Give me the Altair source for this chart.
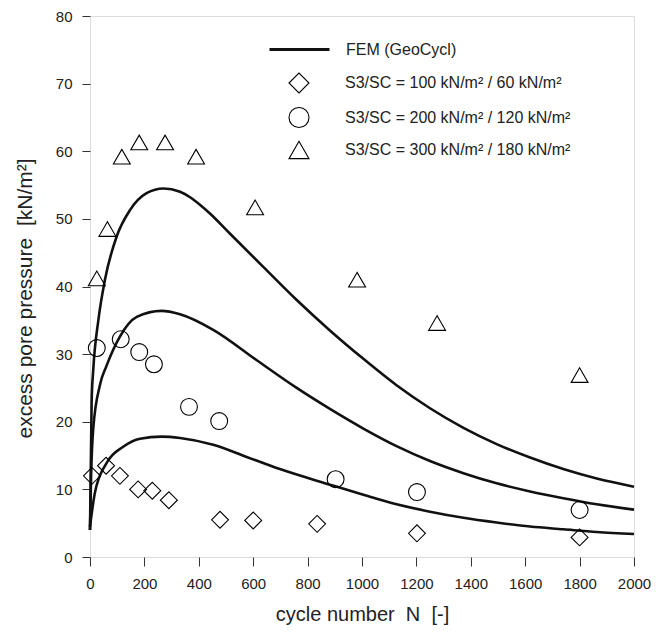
import altair as alt
import pandas as pd

# FEM (GeoCycl) curves
fem_n_300 = [0, 6, 12, 31, 55, 98, 147, 208, 270, 331, 368, 404, 441, 515, 637, 760, 882, 1005, 1127, 1250, 1373, 1495, 1618, 1740, 1863, 2000]
fem_u_300 = [4, 23, 27.7, 35.1, 41.0, 47.4, 51.3, 53.8, 54.5, 54.0, 53.2, 52.1, 50.8, 47.8, 42.9, 38.0, 33.5, 29.3, 25.4, 22.0, 19.1, 16.7, 14.7, 13.0, 11.6, 10.4]

fem_n_200 = [0, 4, 12, 37, 61, 110, 172, 263, 331, 453, 613, 760, 882, 1005, 1127, 1250, 1373, 1495, 1618, 1740, 1863, 2000]
fem_u_200 = [4, 12, 19, 25.5, 28.3, 32.6, 35.5, 36.4, 35.9, 33.6, 29.1, 25.0, 21.9, 19.0, 16.4, 14.2, 12.4, 10.9, 9.7, 8.7, 7.8, 7.0]

fem_n_100 = [0, 18, 61, 122, 184, 263, 331, 453, 576, 698, 882, 1005, 1127, 1250, 1373, 1495, 1618, 1740, 1863, 2000]
fem_u_100 = [4.5, 9.5, 13.9, 16.3, 17.5, 17.8, 17.6, 16.6, 14.8, 13.0, 10.7, 9.2, 7.8, 6.7, 5.8, 5.1, 4.5, 4.1, 3.7, 3.4]

# test data
test_n_100 = [7, 59, 110, 177, 229, 290, 478, 600, 835, 1202, 1800]
test_u_100 = [12.0, 13.5, 12.0, 10.0, 9.8, 8.4, 5.5, 5.4, 4.9, 3.5, 2.9]

test_n_200 = [25, 113, 181, 235, 364, 475, 903, 1202, 1800]
test_u_200 = [30.9, 32.2, 30.3, 28.5, 22.2, 20.1, 11.5, 9.6, 6.95]

test_n_300 = [25, 64, 117, 181, 276, 390, 607, 982, 1276, 1800]
test_u_300 = [41.2, 48.5, 59.2, 61.3, 61.3, 59.2, 51.7, 41.0, 34.6, 26.9]

labels = [
    "S3/SC = 100 kN/m² / 60 kN/m²",
    "S3/SC = 200 kN/m² / 120 kN/m²",
    "S3/SC = 300 kN/m² / 180 kN/m²",
]
fem_label = "FEM (GeoCycl)"

rows = []
for cid, (ns, us) in enumerate([(fem_n_100, fem_u_100), (fem_n_200, fem_u_200), (fem_n_300, fem_u_300)]):
    for n, u in zip(ns, us):
        rows.append({"n": n, "u": u, "curve": cid, "model": fem_label})
lines_df = pd.DataFrame(rows)

prow = []
for lab, (ns, us) in zip(labels, [(test_n_100, test_u_100), (test_n_200, test_u_200), (test_n_300, test_u_300)]):
    for n, u in zip(ns, us):
        prow.append({"n": n, "u": u, "test": lab})
pts_df = pd.DataFrame(prow)

FONT = "Liberation Sans"
TXT = "#222222"

x_enc = alt.X(
    "n:Q",
    scale=alt.Scale(domain=[0, 2000], nice=False, zero=False),
    axis=alt.Axis(
        values=list(range(0, 2001, 200)), format="d",
        title="cycle number\u00a0 N\u00a0 [-]",
        titleX=272, titleY=63, titleBaseline="alphabetic", titleAlign="center",
        tickSize=9, labelPadding=10, grid=False, domain=False,
        labelFontSize=15, titleFontSize=20, labelFont=FONT, titleFont=FONT,
        labelColor=TXT, titleColor=TXT, tickColor="#333", titleFontWeight="normal",
        labelFlush=False,
    ),
)
y_enc = alt.Y(
    "u:Q",
    scale=alt.Scale(domain=[0, 80], nice=False),
    axis=alt.Axis(
        values=list(range(0, 81, 10)), format="d",
        title="excess pore pressure\u00a0 [kN/m²]",
        titleX=-65, titleY=282, titleAngle=270, titleBaseline="middle", titleAlign="center",
        tickSize=8, labelPadding=10, grid=False, domain=False,
        labelFontSize=15, titleFontSize=21, labelFont=FONT, titleFont=FONT,
        labelColor=TXT, titleColor=TXT, tickColor="#333", titleFontWeight="normal",
        labelFlush=False,
    ),
)

lines = alt.Chart(lines_df).mark_line(strokeWidth=2.6, interpolate="monotone", color="black").encode(
    x=x_enc,
    y=y_enc,
    detail="curve:N",
    color=alt.Color(
        "model:N",
        scale=alt.Scale(domain=[fem_label], range=["#111111"]),
        legend=alt.Legend(
            title=None, orient="none", legendX=178, legendY=2,
            symbolType="stroke", symbolSize=3600, symbolStrokeWidth=3,
            labelOffset=15, labelFontSize=16, labelFont=FONT, labelColor=TXT,
            padding=0, labelLimit=400,
        ),
    ),
)

points = alt.Chart(pts_df).mark_point(filled=False, color="black", strokeWidth=1.1, size=285, opacity=1).encode(
    x=x_enc,
    y=y_enc,
    shape=alt.Shape(
        "test:N",
        scale=alt.Scale(domain=labels, range=["diamond", "circle", "triangle-up"]),
        legend=alt.Legend(
            title=None, orient="none", legendX=198, legendY=56,
            symbolSize=400, symbolStrokeColor="black", symbolFillColor="white",
            symbolStrokeWidth=1.1, symbolOpacity=1,
            rowPadding=8.5, labelOffset=35, labelFontSize=16, labelFont=FONT,
            labelColor=TXT, padding=0, labelLimit=400,
        ),
    ),
)

chart = (
    alt.layer(lines, points)
    .properties(
        width=544,
        height=541,
        autosize=alt.AutoSizeParams(type="none"),
        padding={"left": 82, "top": 8, "right": 24, "bottom": 68},
    )
    .configure_view(stroke="#111111", strokeWidth=1.2)
    .configure(background="white")
)

chart.save("out.html", embed_options={"renderer": "svg", "actions": False})
